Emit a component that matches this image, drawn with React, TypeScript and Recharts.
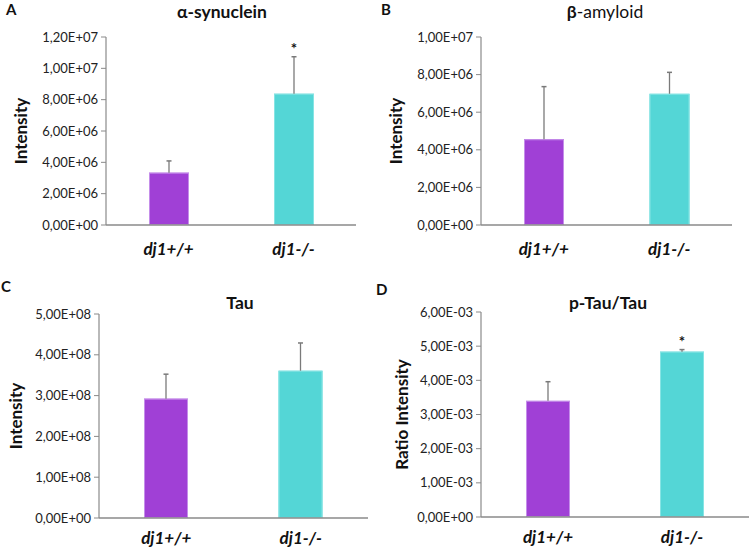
import React from 'react';
import { BarChart, Bar, XAxis, YAxis, Cell } from 'recharts';

// groups on the x axis
const groups = ['dj1+/+', 'dj1-/-'];

// A: alpha-synuclein
const synucleinMean = [3.34e6, 8.38e6];
const synucleinErr = [0.75e6, 2.36e6];
const synucleinSig = [false, true];
const synucleinTicks = [0, 2e6, 4e6, 6e6, 8e6, 1e7, 1.2e7];

// B: beta-amyloid
const amyloidMean = [4.56e6, 6.98e6];
const amyloidErr = [2.8e6, 1.14e6];
const amyloidSig = [false, false];
const amyloidTicks = [0, 2e6, 4e6, 6e6, 8e6, 1e7];

// C: Tau
const tauMean = [2.925e8, 3.61e8];
const tauErr = [0.6e8, 0.68e8];
const tauSig = [false, false];
const tauTicks = [0, 1e8, 2e8, 3e8, 4e8, 5e8];

// D: p-Tau / Tau
const ptauMean = [3.4e-3, 4.84e-3];
const ptauErr = [0.56e-3, 0.06e-3];
const ptauSig = [false, true];
const ptauTicks = [0, 1e-3, 2e-3, 3e-3, 4e-3, 5e-3, 6e-3];

const COLORS = ['#A040D6', '#54D6D6'];
const BORDERS = ['#C58EEA', '#86E4E4'];
const AXIS = '#8a8a8a';
const FONT = 'Lato, "Open Sans", sans-serif';

const rows = (mean: number[], err: number[], sig: boolean[]) =>
  groups.map((g, i) => ({ group: g, value: mean[i], err: err[i], sig: sig[i] }));

// Excel style scientific: 1,20E+07
const sci = (v: number) => {
  if (v === 0) return '0,00E+00';
  const e = Math.floor(Math.log10(Math.abs(v)) + 1e-9);
  const m = (v / Math.pow(10, e)).toFixed(2).replace('.', ',');
  const sign = e < 0 ? '-' : '+';
  return `${m}E${sign}${String(Math.abs(e)).padStart(2, '0')}`;
};

// bar + one-sided (upward) error bar + optional star
const BarWithError = (props: any) => {
  const { x, y, width, height, payload, index } = props;
  if (!payload || !height) return null;
  const perUnit = height / payload.value;
  const top = y - payload.err * perUnit;
  const cx = x + width / 2;
  return (
    <g>
      <rect x={x} y={y} width={width} height={height} fill={COLORS[index]} />
      <rect
        x={x + 0.5}
        y={y + 0.5}
        width={width - 1}
        height={height - 1}
        fill="none"
        stroke={BORDERS[index]}
        strokeWidth={1}
      />
      <line x1={cx} y1={y} x2={cx} y2={top} stroke="#7a7a7a" strokeWidth={1.3} />
      <line x1={cx - 2.5} y1={top} x2={cx + 2.5} y2={top} stroke="#7a7a7a" strokeWidth={1.5} />
      {payload.sig && (
        <text x={cx} y={top - 3} textAnchor="middle" fontFamily={FONT} fontWeight={700} fontSize={15} fill="#111">
          *
        </text>
      )}
    </g>
  );
};

const YTitle = (props: any) => {
  const { viewBox, text, cx } = props;
  if (!viewBox) return null;
  const cy = viewBox.y + viewBox.height / 2;
  return (
    <text
      x={cx}
      y={cy}
      transform={`rotate(-90, ${cx}, ${cy})`}
      textAnchor="middle"
      dominantBaseline="central"
      fontFamily={FONT}
      fontWeight={700}
      fontSize={17}
      fill="#111"
    >
      {text}
    </text>
  );
};

type PanelProps = {
  left: number;
  top: number;
  letter: string;
  letterPos: [number, number];
  title: React.ReactNode;
  titlePos: [number, number];
  data: { group: string; value: number; err: number; sig: boolean }[];
  ticks: number[];
  yLabel: string;
  yLabelX: number;
  plot: { left: number; top: number; bottom: number; right: number };
  barSize: number;
  labelGap: number;
};

const W = 374;
const H = 275;

function Panel(p: PanelProps) {
  return (
    <div style={{ position: 'absolute', left: p.left, top: p.top, width: W, height: H }}>
      <BarChart
        width={W}
        height={H}
        data={p.data}
        margin={{ top: p.plot.top, right: W - p.plot.right, bottom: 0, left: 0 }}
      >
        <XAxis
          dataKey="group"
          height={H - p.plot.bottom}
          tickLine={false}
          axisLine={{ stroke: AXIS, strokeWidth: 1.5 }}
          tickMargin={p.labelGap}
          tick={{ fontFamily: FONT, fontSize: 17, fontWeight: 700, fontStyle: 'italic', fill: '#111' }}
        />
        <YAxis
          width={p.plot.left}
          domain={[p.ticks[0], p.ticks[p.ticks.length - 1]]}
          ticks={p.ticks}
          interval={0}
          tickFormatter={sci}
          tickSize={5}
          tickMargin={3}
          tickLine={{ stroke: AXIS }}
          axisLine={{ stroke: AXIS, strokeWidth: 1.2 }}
          tick={{ fontFamily: FONT, fontSize: 13, fill: '#222' }}
          label={<YTitle text={p.yLabel} cx={p.yLabelX} />}
        />
        <Bar dataKey="value" barSize={p.barSize} isAnimationActive={false} shape={BarWithError}>
          {p.data.map((d, i) => (
            <Cell key={d.group} fill={COLORS[i]} />
          ))}
        </Bar>
      </BarChart>
      <div
        style={{
          position: 'absolute',
          left: p.letterPos[0],
          top: p.letterPos[1],
          fontFamily: FONT,
          fontWeight: 700,
          fontSize: 15,
          lineHeight: '15px',
          color: '#111',
        }}
      >
        {p.letter}
      </div>
      <div
        style={{
          position: 'absolute',
          left: p.titlePos[0] - 100,
          width: 200,
          top: p.titlePos[1] - 11,
          height: 22,
          lineHeight: '22px',
          textAlign: 'center',
          fontFamily: FONT,
          fontSize: 17.5,
          color: '#111',
          whiteSpace: 'nowrap',
        }}
      >
        {p.title}
      </div>
    </div>
  );
}

export default function App() {
  return (
    <div
      style={{
        position: 'absolute',
        left: 0,
        top: 0,
        width: 749,
        height: 550,
        background: '#fff',
        overflow: 'hidden',
      }}
    >
      <Panel
        left={0}
        top={0}
        letter="A"
        letterPos={[6, 2]}
        title={<b>α-synuclein</b>}
        titlePos={[222, 12]}
        data={rows(synucleinMean, synucleinErr, synucleinSig)}
        ticks={synucleinTicks}
        yLabel="Intensity"
        yLabelX={20}
        plot={{ left: 106, top: 37, bottom: 225, right: 356 }}
        barSize={40}
        labelGap={12}
      />
      <Panel
        left={375}
        top={0}
        letter="B"
        letterPos={[6, 2]}
        title={
          <span>
            <b>β</b>-amyloid
          </span>
        }
        titlePos={[230, 12]}
        data={rows(amyloidMean, amyloidErr, amyloidSig)}
        ticks={amyloidTicks}
        yLabel="Intensity"
        yLabelX={20}
        plot={{ left: 106, top: 37, bottom: 225, right: 357 }}
        barSize={40}
        labelGap={12}
      />
      <Panel
        left={0}
        top={275}
        letter="C"
        letterPos={[1, 4]}
        title={<b>Tau</b>}
        titlePos={[240, 28]}
        data={rows(tauMean, tauErr, tauSig)}
        ticks={tauTicks}
        yLabel="Intensity"
        yLabelX={15}
        plot={{ left: 99, top: 39, bottom: 243, right: 368 }}
        barSize={44}
        labelGap={8}
      />
      <Panel
        left={375}
        top={275}
        letter="D"
        letterPos={[1, 7]}
        title={<b>p-Tau/Tau</b>}
        titlePos={[233, 28]}
        data={rows(ptauMean, ptauErr, ptauSig)}
        ticks={ptauTicks}
        yLabel="Ratio Intensity"
        yLabelX={26}
        plot={{ left: 106, top: 37, bottom: 242, right: 374 }}
        barSize={44}
        labelGap={8}
      />
    </div>
  );
}
